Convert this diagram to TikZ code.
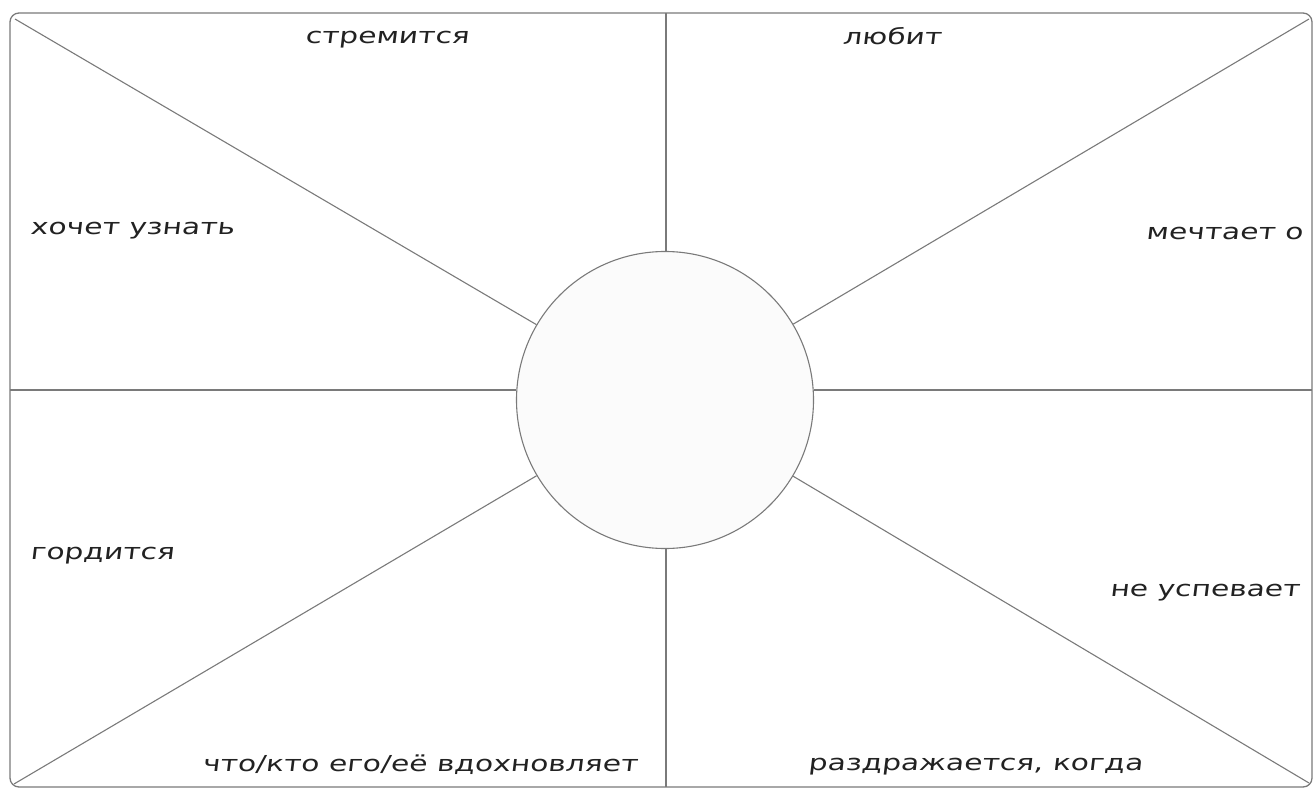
\documentclass[tikz,border=0pt]{standalone}
\usepackage{fontspec}
\setmainfont{DejaVu Sans}
\newfontfamily\handfont[FakeStretch=1.35, FakeSlant=0.12]{DejaVu Sans}
\definecolor{rim}{HTML}{7A7A7A}
\definecolor{ink}{HTML}{222222}
\definecolor{hubfill}{HTML}{FBFBFB}

\begin{document}
\begin{tikzpicture}[x=1pt, y=-1pt,
  rim/.style={draw=rim, line width=1.3pt},
  ray/.style={draw=rim, line width=1.1pt},
  hub/.style={circle, draw=rim, line width=1.1pt, fill=hubfill, minimum size=297pt, inner sep=0pt},
  word/.style={font=\handfont\fontsize{22}{24}\selectfont, text=ink, inner sep=0pt}
]
\useasboundingbox (0,0) rectangle (1314,789);
\draw[rim, rounded corners=9pt] (10,13) rectangle (1312,787);

\node[hub] (hub) at (665,400) {};

\coordinate (tl) at (15,19);
\coordinate (tr) at (1309,19);
\coordinate (bl) at (14,784);
\coordinate (br) at (1309,783);
\coordinate (n)  at (666,13);
\coordinate (s)  at (666,787);
\coordinate (w)  at (10,390);
\coordinate (e)  at (1312,390);

\draw[ray] (tl) -- (hub);
\draw[ray] (tr) -- (hub);
\draw[ray] (bl) -- (hub);
\draw[ray] (br) -- (hub);
\draw[ray] (n) -- (n |- hub.north);
\draw[ray] (s) -- (s |- hub.south);
\draw[ray] (w) -- (w -| hub.west);
\draw[ray] (e) -- (e -| hub.east);

\node[word] (strives)  at (387,40)  {стремится};
\node[word] (loves)    at (892,36)  {любит};
\node[word, anchor=west] (learn)  at (30,231)  {хочет узнать};
\node[word, anchor=east] (dreams) at (1303,233) {мечтает о};
\node[word, anchor=west] (proud)  at (30,556)  {гордится};
\node[word, anchor=east] (late)   at (1300,593) {не успевает};
\node[word] (inspire)  at (420,765) {что/кто его/её вдохновляет};
\node[word, anchor=west] (annoyed) at (808,767) {раздражается, когда};
\end{tikzpicture}
\end{document}
